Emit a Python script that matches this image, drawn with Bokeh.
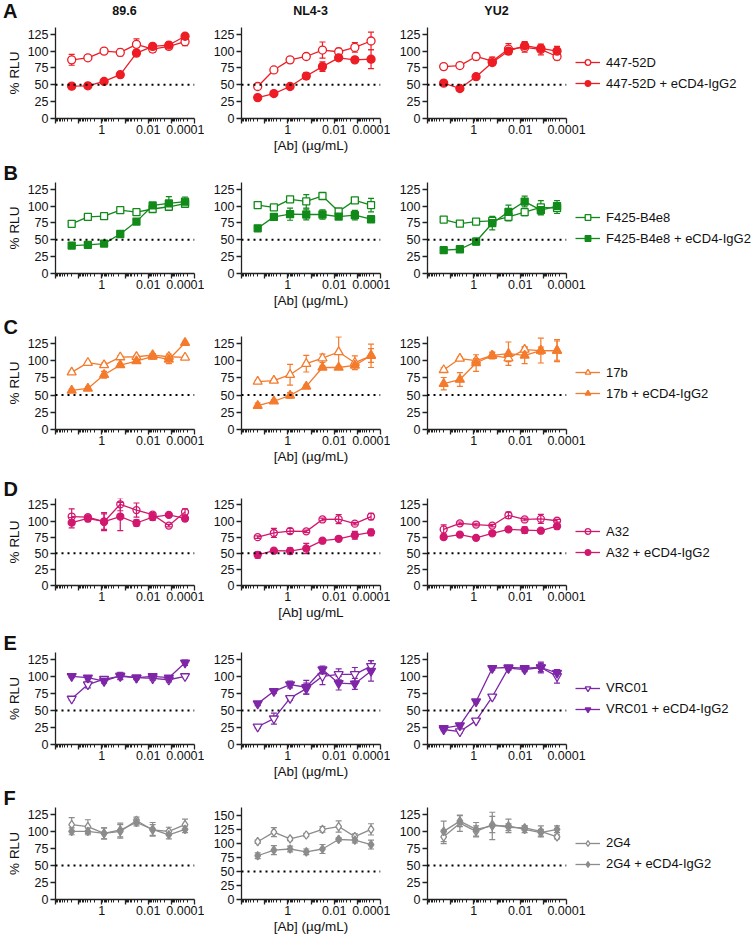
from bokeh.plotting import figure
from bokeh.layouts import column, row
from bokeh.models import (Range1d, FixedTicker, Span, Whisker, TeeHead, ColumnDataSource,
                          Legend, LegendItem, Div)
from bokeh.embed import file_html
from bokeh.resources import INLINE

# ---------------- data ----------------
conc = [20, 4, 0.8, 0.16, 0.032, 0.0064, 0.00128, 0.000256]   # [Ab] ug/mL
strains = ["89.6", "NL4-3", "YU2"]
x_tick_values = [100, 10, 1, 0.1, 0.01, 0.001, 0.0001]
x_tick_labels = ["", "", "1", "", "0.01", "", "0.0001"]
y_ticks = [0, 25, 50, 75, 100, 125]
y_ticks_tall = [0, 25, 50, 75, 100, 125, 150]

# each list: [89.6, NL4-3, YU2]
a447_alone = [[87, 90, 100, 98, 110, 103, 107, 114],
              [47.5, 72, 87, 92, 101.5, 99, 105.5, 115],
              [77, 78.5, 92, 85, 103, 105.5, 102.5, 92]]
a447_alone_err = [[8, 3, 2, 5, 8, 5, 4, 6],
                  [2, 3, 4, 4, 12, 5, 7, 13],
                  [2, 4, 5, 6, 8, 7, 8, 5]]
a447_combo = [[48, 48.5, 55, 65, 97, 107, 109, 122],
              [31, 37, 47.5, 63, 77, 90, 87, 88],
              [52.5, 44.5, 62, 83, 100, 108, 104, 100]]
a447_combo_err = [[2, 2, 3, 4, 3, 3, 3, 4],
                  [2, 2, 2, 5, 7, 3, 2, 14],
                  [2, 4, 2, 3, 5, 6, 5, 7]]

f425_alone = [[73.7, 84, 85, 94, 91, 95.7, 99, 103.5],
              [101.5, 98, 110, 107, 115, 92, 108.5, 101.5],
              [80, 74, 77, 78, 84, 91, 98, 97]]
f425_alone_err = [[2, 2, 2, 5, 2, 2, 4, 3],
                  [3, 3, 2, 10, 3, 2, 3, 10],
                  [4, 2, 2, 4, 6, 5, 10, 8]]
f425_combo = [[41.5, 42.5, 44.4, 58.6, 77, 101, 104, 106.5],
              [67, 84, 88, 87.5, 87.5, 84.5, 86.5, 80.5],
              [34.6, 36, 47.4, 74.6, 91.4, 106.7, 94, 100]]
f425_combo_err = [[2, 2, 2, 5, 2, 4, 10, 7],
                  [4, 2, 9, 8, 7, 4, 7, 2],
                  [2, 2, 5, 10, 10, 8, 7, 8]]

b17_alone = [[83, 97, 93.5, 105, 105.6, 108, 105.6, 104.6],
             [69.5, 71, 79.5, 95.5, 103.5, 112.5, 97, 107],
             [86.5, 103, 100, 107.5, 103.5, 116, 114.5, 114.5]]
b17_alone_err = [[2, 2, 3, 2, 2, 2, 4, 2],
                 [2, 2, 15, 12, 6, 22, 10, 17],
                 [3, 2, 3, 4, 5, 4, 5, 14]]
b17_combo = [[56.7, 59.6, 79.5, 93.5, 99.3, 106, 101.7, 126],
             [34.5, 41, 49.5, 62.5, 90, 90, 93, 107.5],
             [66.5, 72.5, 96.5, 107.5, 110, 107.5, 114.5, 114.5]]
b17_combo_err = [[2, 2, 5, 2, 3, 4, 6, 2],
                 [4, 2, 4, 2, 2, 2, 3, 10],
                 [9, 10, 12, 5, 17, 12, 18, 16]]

a32_alone = [[107, 106, 99, 126, 117, 110, 93, 114],
             [75, 81.5, 84.5, 84, 102.5, 103, 96, 107],
             [87, 96.5, 94.6, 93, 109, 102.5, 103.4, 100.5]]
a32_alone_err = [[12, 3, 14, 10, 11, 3, 2, 5],
                 [2, 7, 4, 2, 2, 7, 2, 5],
                 [7, 2, 2, 2, 5, 2, 7, 2]]
a32_combo = [[97.5, 104, 99, 107, 97, 106, 109.5, 104],
             [47.5, 54, 53.5, 57.5, 69.5, 72.5, 78, 82.5],
             [75, 79, 74, 81, 87, 86, 85, 92]]
a32_combo_err = [[8, 5, 12, 22, 5, 5, 2, 4],
                 [5, 2, 5, 8, 2, 2, 6, 5],
                 [3, 2, 2, 2, 2, 5, 2, 4]]

vrc01_alone = [[67, 88, 96, 100, 98, 97, 95, 100],
               [26, 38, 68, 82, 100, 103, 103, 115],
               [22, 19, 35, 70, 112, 110, 113, 100]]
vrc01_alone_err = [[2, 5, 3, 5, 3, 3, 3, 2],
                   [2, 8, 3, 8, 12, 8, 10, 8],
                   [2, 2, 2, 2, 3, 3, 6, 10]]
vrc01_combo = [[100, 98, 93, 101, 98, 100, 98, 120],
               [60, 78, 88, 84, 110, 90, 89, 108],
               [24, 28, 63, 112, 113, 112, 113, 105]]
vrc01_combo_err = [[2, 2, 3, 5, 2, 4, 3, 4],
                   [3, 3, 5, 10, 5, 10, 8, 15],
                   [2, 2, 2, 3, 3, 3, 8, 5]]

g24_alone = [[110, 107, 97, 100, 116, 102, 100, 110],
             [103, 120, 108, 115, 125, 130, 112, 125],
             [92, 112, 100, 110, 106, 105, 100, 92]]
g24_alone_err = [[10, 10, 8, 10, 5, 8, 6, 8],
                 [3, 8, 3, 3, 5, 10, 5, 10],
                 [10, 12, 8, 12, 5, 3, 8, 3]]
g24_combo = [[100, 100, 97, 102, 113, 103, 95, 103],
             [78, 88, 90, 85, 90, 107, 106, 98],
             [100, 115, 103, 108, 108, 103, 98, 103]]
g24_combo_err = [[5, 5, 8, 10, 5, 10, 6, 5],
                 [5, 8, 5, 5, 8, 3, 5, 8],
                 [15, 8, 10, 20, 10, 5, 5, 5]]

panel_letters = ["A", "B", "C", "D", "E", "F"]
antibodies = ["447-52D", "F425-B4e8", "17b", "A32", "VRC01", "2G4"]
x_labels = ["[Ab] (µg/mL)", "[Ab] (µg/mL)", "[Ab] (µg/mL)", "[Ab] ug/mL", "[Ab] (µg/mL)", "[Ab] (µg/mL)"]

series = [
    (a447_alone, a447_alone_err, a447_combo, a447_combo_err),
    (f425_alone, f425_alone_err, f425_combo, f425_combo_err),
    (b17_alone, b17_alone_err, b17_combo, b17_combo_err),
    (a32_alone, a32_alone_err, a32_combo, a32_combo_err),
    (vrc01_alone, vrc01_alone_err, vrc01_combo, vrc01_combo_err),
    (g24_alone, g24_alone_err, g24_combo, g24_combo_err),
]

# ---------------- styles ----------------
colors = ["#ee1c24", "#118a1a", "#f47a2c", "#d2176f", "#7e26a7", "#8c8c8c"]
markers = ["circle", "square", "triangle", "circle", "inverted_triangle", "diamond"]
msizes = [8, 7, 9, 7, 9, 8.5]
open_fill_alpha = [1, 1, 1, 0, 1, 1]
frame_h = [91, 91, 93, 87, 92, 92]
HEAD_H = 22
top_border = [27 - HEAD_H, 26, 25, 31, 29, 25]
bottom_border = [38, 38, 38, 38, 38, 40]
FONT = "Liberation Sans"
FW = 139
XMINOR = [m * 10.0 ** k for k in range(-4, 2) for m in range(2, 10)]


def make_fig(ri, ci):
    alone, alone_err, combo, combo_err = series[ri]
    color = colors[ri]
    tall = (ri == 5 and ci == 1)
    ymax = 164 if tall else 135
    fh = frame_h[ri]
    p = figure(frame_width=FW, frame_height=fh, x_axis_type="log",
               x_range=Range1d(100, 0.0001), y_range=Range1d(0, ymax),
               output_backend="svg", toolbar_location=None,
               min_border_left=55 if ci == 0 else 37,
               min_border_right=10 if ci < 2 else 175,
               min_border_top=top_border[ri], min_border_bottom=bottom_border[ri],
               background_fill_color="white", border_fill_color="white")
    p.outline_line_color = None
    p.xgrid.visible = False
    p.ygrid.visible = False

    xa = p.xaxis[0]
    xa.ticker = FixedTicker(ticks=x_tick_values, minor_ticks=XMINOR)
    xa.major_label_overrides = {v: t for v, t in zip(x_tick_values, x_tick_labels)}
    ya = p.yaxis[0]
    ya.ticker = FixedTicker(ticks=y_ticks_tall if tall else y_ticks)
    for ax in (xa, ya):
        ax.axis_line_width = 1.3
        ax.axis_line_color = "#222222"
        ax.major_tick_line_width = 1.3
        ax.major_tick_line_color = "#222222"
        ax.major_tick_in = 0
        ax.major_tick_out = 5
        ax.major_label_text_font = FONT
        ax.major_label_text_font_size = "12.5px"
        ax.major_label_text_color = "#111111"
        ax.major_label_standoff = 1
        ax.axis_label_text_font = FONT
        ax.axis_label_text_font_style = "normal"
        ax.axis_label_text_font_size = "13.5px"
        ax.axis_label_text_color = "#111111"
    xa.minor_tick_in = 0
    xa.minor_tick_out = 3
    xa.minor_tick_line_width = 1
    xa.minor_tick_line_color = "#222222"
    ya.minor_tick_line_color = None
    ya.major_label_standoff = 2
    if ci == 1:
        xa.axis_label = x_labels[ri]
        xa.axis_label_standoff = 1
    if ci == 0:
        ya.axis_label = "% RLU"
        ya.axis_label_standoff = 3

    p.add_layout(Span(location=50, dimension="width", line_color="black",
                      line_width=2, line_dash="2 4"))

    rends = []
    for vals, errs, filled in ((alone[ci], alone_err[ci], False), (combo[ci], combo_err[ci], True)):
        src = ColumnDataSource(dict(x=conc, y=vals,
                                    upper=[v + e for v, e in zip(vals, errs)],
                                    lower=[v - e for v, e in zip(vals, errs)]))
        w = Whisker(source=src, base="x", upper="upper", lower="lower", dimension="height",
                    line_color=color, line_width=1.2, level="underlay",
                    upper_head=TeeHead(size=6, line_color=color, line_width=1.2),
                    lower_head=TeeHead(size=6, line_color=color, line_width=1.2))
        p.add_layout(w)
        lr = p.line("x", "y", source=src, line_color=color, line_width=1.3)
        sr = p.scatter("x", "y", source=src, marker=markers[ri], size=msizes[ri],
                       line_color=color, line_width=1.3,
                       fill_color=color if filled else "white",
                       fill_alpha=1 if filled else open_fill_alpha[ri])
        rends.append([lr, sr])

    if ci == 2:
        leg = Legend(items=[LegendItem(label=antibodies[ri], renderers=rends[0]),
                            LegendItem(label=antibodies[ri] + " + eCD4-IgG2", renderers=rends[1])],
                     location="center_left", margin=9, padding=0, spacing=6,
                     glyph_width=25, glyph_height=14, label_height=14, label_standoff=6,
                     label_text_font=FONT, label_text_font_size="13px",
                     label_text_color="#111111",
                     border_line_color=None, background_fill_alpha=0)
        p.add_layout(leg, "right")

    if ri > 0 and ci == 0:
        # panel letter as a left-aligned title pushed over the y axis
        t = p.title
        t.text = panel_letters[ri]
        t.text_font = FONT
        t.text_color = "#111111"
        t.text_font_style = "bold"
        t.align = "left"
        t.offset = -52
        t.text_font_size = "20px"
        t.standoff = -2
    return p


def head_div(text, width, size, align):
    return Div(text=text, width=width, height=HEAD_H, margin=0,
               styles={"font-family": FONT, "font-size": size, "font-weight": "bold",
                       "text-align": align, "line-height": f"{HEAD_H}px", "color": "#111111",
                       "padding-left": "3px" if align == "left" else "0px"})


header = row([head_div(panel_letters[0], 55, "20px", "left"),
              head_div(strains[0], 139, "12.5px", "center"),
              head_div("", 47, "12px", "center"),
              head_div(strains[1], 139, "12.5px", "center"),
              head_div("", 47, "12px", "center"),
              head_div(strains[2], 139, "12.5px", "center")], spacing=0)

rows = [header]
for ri in range(6):
    rows.append(row([make_fig(ri, ci) for ci in range(3)], spacing=0))
layout = column(rows, spacing=0)

open("out.html", "w").write(file_html(layout, INLINE, title="RLU panels"))
